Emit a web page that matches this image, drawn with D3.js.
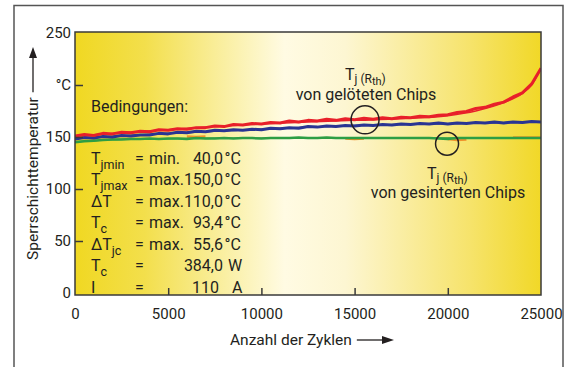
<html>
<head>
<meta charset="utf-8">
<title>Sperrschichttemperatur</title>
<script src="https://d3js.org/d3.v7.min.js"></script>
<style>
  body { margin: 0; background: #fff; }
  text { font-family: Roboto, "Open Sans", sans-serif; fill: #231f20; }
</style>
</head>
<body>
<script>

    // messpunkte alle 500 zyklen
    var cycles = [0,500,1000,1500,2000,2500,3000,3500,4000,4500,5000,5500,6000,6500,7000,7500,8000,8500,9000,9500,
                  10000,10500,11000,11500,12000,12500,13000,13500,14000,14500,15000,15500,16000,16500,17000,17500,
                  18000,18500,19000,19500,20000,20500,21000,21500,22000,22500,23000,23500,24000,24500,25000];
    var redMeas = [151,152.5,151.5,153.5,153,154.5,154,155.5,155,157,156.5,158,157.5,159,159,160.5,160,162,161.5,163,
                   162.5,164,163.5,165.5,164.5,166,165.5,167,166,167.5,166.5,168,167,168.5,167.5,169,
                   168.5,170,169.5,171,171.5,173.5,174.5,177.5,178.5,181.5,183.5,188.5,192.5,201,216];
    var blueMeas = [148,149.5,149,150.5,150,151.5,151,152,152,153.5,153,154.5,154,155.5,155,156.5,156,157,156.5,157.5,
                    157,158.5,158,159,158.5,160,159.5,160.5,160,161,160.5,161.5,161,162,161.5,162.5,
                    162,163,162.5,163.5,162.5,163.5,163,164,163.5,164.5,163.5,164.5,164,165,164.5];
    var greenMeas = [145,146,146.5,147,147.5,147.5,148,148,148.5,148,148.5,148.5,148,149,148.5,148.5,149,148.5,149,149,
                     148.5,149,149,149,149.5,149,149,149.5,149,149,149,149,149,149,149,149,
                     149,149,149,148.5,148,149,149,149,149,149,149,149,149,149,149];
    var orangeMeas = [null,null,null,null,null,null,null,null,null,null,null,null,150.5,150,150.5,null,null,null,null,null,
                      null,null,null,null,null,null,null,null,null,148.5,148,148.5,null,null,null,null,
                      null,null,null,null,148,147,147.5,null,null,null,null,149.5,149.5,149.5,149.5];

    // ausgleichskurven
    var fitCycles = [0,2500,5000,7500,10000,12500,15000,17500,20000,21500,23000,24000,24500,25000];
    var redFit   = [151,154,157,160,162.5,164.5,166,167.5,170.5,175,183,192,200,216];
    var blueFit  = [148.5,151,153.5,155.5,157.5,159.5,161,162,162.8,163.3,163.8,164,164.2,164.5];
    var greenFit = [145.5,147.8,148.4,148.7,148.9,149,149,149,149,149,149,149,149,149];

    var xTicks = [0,5000,10000,15000,20000,25000];
    var yTicks = [0,50,100,150,200,250];
    var yTickLabels = ["0","50","100","150","°C","250"];

    var condSymbols = ["T","T","\u0394T","T","\u0394T","T","I"];
    var condSubs    = ["jmin","jmax","","c","jc","c",""];
    var condPrefix  = ["min.","max.","max.","max.","max.","",""];
    var condValues  = ["40,0","150,0","110,0","93,4","55,6","384,0","110"];
    var condUnits   = ["°C","°C","°C","°C","°C","W","A"];

    var width = 569;
    var height = 367;

    var svg = d3.select('body')
                .append('svg')
                .attr('width', width)
                .attr('height', height);

    var pLeft = 75, pRight = 541, pTop = 32, pBottom = 295;

    var x = d3.scaleLinear().domain([0, 25000]).range([pLeft, pRight]);
    var y = d3.scaleLinear().domain([0, 250]).range([293, 33]);

    // aussenrahmen
    svg.append('path')
       .attr('d', 'M14,' + height + 'V5.5H563V' + height)
       .attr('fill', 'none')
       .attr('stroke', '#555')
       .attr('stroke-width', 1.5);

    var defs = svg.append('defs');
    var grad = defs.append('linearGradient')
                   .attr('id', 'bg')
                   .attr('x1', '0%').attr('x2', '100%')
                   .attr('y1', '0%').attr('y2', '0%');
    [[0, '#f0d822'], [0.15, '#f3df4c'], [0.45, '#fffbe3'], [0.58, '#fdf6d2'], [0.85, '#f6e36a'], [1, '#f1d827']]
        .forEach(function(s) {
            grad.append('stop').attr('offset', s[0]).attr('stop-color', s[1]);
        });
    defs.append('clipPath').attr('id', 'clip')
        .append('rect')
        .attr('x', pLeft).attr('y', pTop)
        .attr('width', pRight - pLeft).attr('height', pBottom - pTop);

    svg.append('rect')
       .attr('x', pLeft).attr('y', pTop)
       .attr('width', pRight - pLeft).attr('height', pBottom - pTop)
       .attr('fill', 'url(#bg)');

    // kurven
    var plot = svg.append('g').attr('clip-path', 'url(#clip)');

    function drawMeas(values, color, w) {
        var line = d3.line()
            .defined(function(d) { return d != null; })
            .x(function(d, i) { return x(cycles[i]); })
            .y(function(d) { return y(d); });
        plot.append('path')
            .attr('d', line(values))
            .attr('fill', 'none')
            .attr('stroke', color)
            .attr('stroke-width', w)
            .attr('stroke-linejoin', 'round');
    }
    function drawFit(values, color) {
        var line = d3.line()
            .curve(d3.curveMonotoneX)
            .x(function(d, i) { return x(fitCycles[i]); })
            .y(function(d) { return y(d); });
        plot.append('path')
            .attr('d', line(values))
            .attr('fill', 'none')
            .attr('stroke', color)
            .attr('stroke-width', 1.5);
    }

    drawMeas(orangeMeas, '#f0922b', 2.5);
    drawMeas(greenMeas, '#2e9e44', 2.5);
    drawFit(greenFit, '#2e9e44');
    drawMeas(blueMeas, '#2a3593', 3);
    drawFit(blueFit, '#2a3593');
    drawMeas(redMeas, '#e8202a', 3);
    drawFit(redFit, '#e8202a');

    // rahmen + achsen
    svg.append('rect')
       .attr('x', pLeft).attr('y', pTop)
       .attr('width', pRight - pLeft).attr('height', pBottom - pTop)
       .attr('fill', 'none')
       .attr('stroke', '#3a3a3a')
       .attr('stroke-width', 1.5);

    var yAxis = d3.axisLeft(y)
        .tickValues(yTicks)
        .tickFormat(function(d, i) { return yTickLabels[i]; })
        .tickSizeInner(-8).tickSizeOuter(0).tickPadding(4);
    var gy = svg.append('g').attr('transform', 'translate(' + pLeft + ',0)').call(yAxis);

    var xAxis = d3.axisBottom(x)
        .tickValues(xTicks)
        .tickFormat(function(d) { return d; })
        .tickSizeInner(-7).tickSizeOuter(0).tickPadding(13);
    var gx = svg.append('g').attr('transform', 'translate(0,' + pBottom + ')').call(xAxis);

    [gx, gy].forEach(function(g) {
        g.select('.domain').remove();
        g.selectAll('line').attr('stroke', '#3a3a3a').attr('stroke-width', 1.5);
        g.selectAll('text').attr('font-size', 15).attr('fill', '#231f20')
         .style('font-family', 'Roboto, sans-serif');
    });
    // ticks an den raendern weglassen
    gy.selectAll('.tick').filter(function(d) { return d === 0 || d === 250; }).select('line').remove();
    gx.selectAll('.tick').filter(function(d) { return d === 0 || d === 25000; }).select('line').remove();

    // achsenbeschriftung
    var xl = svg.append('text')
        .attr('x', 230).attr('y', 345)
        .attr('font-size', 15.5)
        .text('Anzahl der Zyklen');
    var xlEnd = 230 + xl.node().getComputedTextLength() + 5;
    svg.append('line')
       .attr('x1', xlEnd).attr('x2', 385).attr('y1', 340).attr('y2', 340)
       .attr('stroke', '#231f20').attr('stroke-width', 1.3);
    svg.append('path')
       .attr('d', 'M382,336L394,340L382,344Z')
       .attr('fill', '#231f20');

    var yl = svg.append('text')
        .attr('transform', 'translate(38,260) rotate(-90)')
        .attr('font-size', 15.5)
        .text('Sperrschichttemperatur');
    var ylEnd = 260 - yl.node().getComputedTextLength() - 5;
    svg.append('line')
       .attr('x1', 33).attr('x2', 33).attr('y1', ylEnd).attr('y2', 56)
       .attr('stroke', '#231f20').attr('stroke-width', 1.3);
    svg.append('path')
       .attr('d', 'M29,58L33,47L37,58Z')
       .attr('fill', '#231f20');

    // bedingungen
    svg.append('text')
       .attr('x', 91).attr('y', 112)
       .attr('font-size', 16)
       .text('Bedingungen:');

    var cond = svg.append('g').attr('font-size', 16);
    condSymbols.forEach(function(s, i) {
        var yy = 163.5 + i * 21.5;
        var t = cond.append('text').attr('x', 91).attr('y', yy);
        t.append('tspan').text(s);
        if (condSubs[i]) {
            t.append('tspan').attr('dy', 5).attr('font-size', 12.5).text(condSubs[i]);
        }
        cond.append('text').attr('x', 135).attr('y', yy).text('=');
        cond.append('text').attr('x', 149).attr('y', yy).text(condPrefix[i]);
        cond.append('text').attr('x', condUnits[i] === 'A' ? 219 : 223).attr('y', yy)
            .attr('text-anchor', 'end').text(condValues[i]);
        var ux = condUnits[i] === '°C' ? 224.5 : (condUnits[i] === 'W' ? 228 : 232);
        cond.append('text').attr('x', ux).attr('y', yy).text(condUnits[i]);
    });

    // anmerkungen
    function tjLabel(xx, yy) {
        var t = svg.append('text').attr('x', xx).attr('y', yy).attr('font-size', 16);
        t.append('tspan').text('T');
        t.append('tspan').attr('dy', 3).attr('font-size', 12).text('j');
        t.append('tspan').attr('font-size', 12).text(' (R');
        t.append('tspan').attr('dy', 1.5).attr('font-size', 11).text('th');
        t.append('tspan').attr('dy', -1.5).attr('font-size', 12).text(')');
    }
    tjLabel(345, 80);
    svg.append('text')
       .attr('x', 366).attr('y', 100)
       .attr('text-anchor', 'middle')
       .attr('font-size', 16)
       .text('von gelöteten Chips');
    tjLabel(427, 179);
    svg.append('text')
       .attr('x', 448).attr('y', 198)
       .attr('text-anchor', 'middle')
       .attr('font-size', 16)
       .text('von gesinterten Chips');

    svg.append('circle')
       .attr('cx', x(15560)).attr('cy', y(166.5)).attr('r', 14)
       .attr('fill', 'none').attr('stroke', '#231f20').attr('stroke-width', 1.5);
    svg.append('circle')
       .attr('cx', x(19960)).attr('cy', y(143.5)).attr('r', 11.5)
       .attr('fill', 'none').attr('stroke', '#231f20').attr('stroke-width', 1.5);

</script>
</body>
</html>
